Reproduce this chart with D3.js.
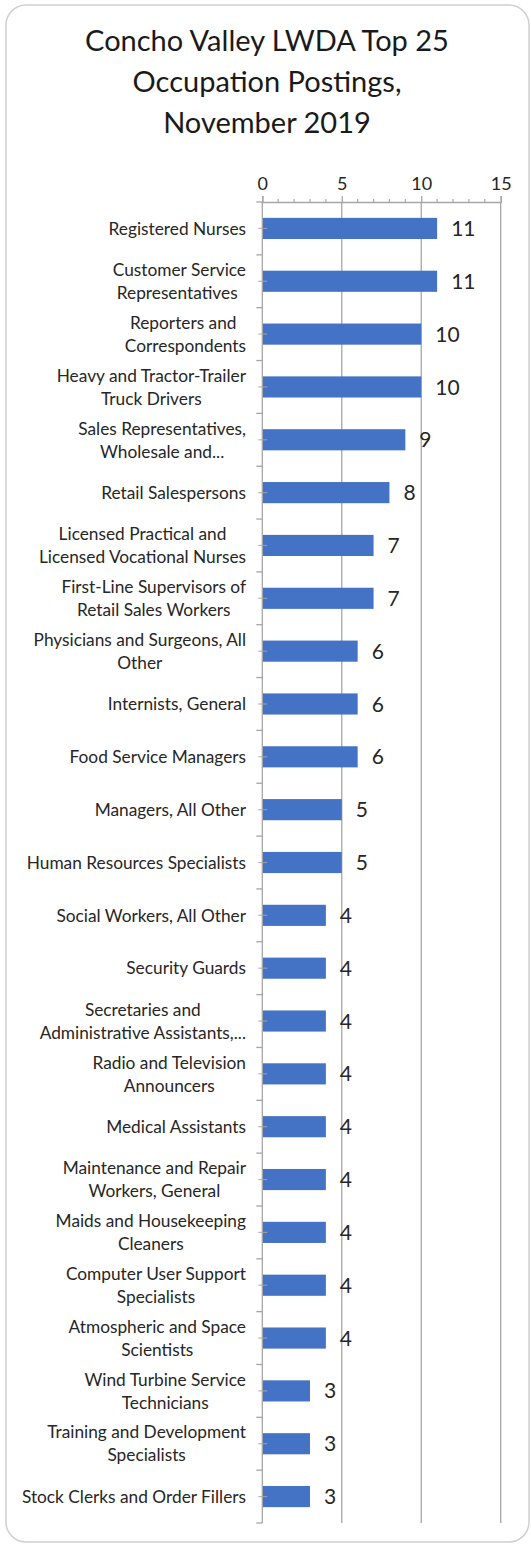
<!DOCTYPE html>
<html>
<head>
<meta charset="utf-8">
<script src="https://cdn.jsdelivr.net/npm/d3@7"></script>
<style>
  html, body { margin: 0; padding: 0; background: #fff; }
  svg { display: block; }
  text { font-family: Lato, "Open Sans", sans-serif; fill: #262626; }
</style>
</head>
<body>
<svg id="chart" width="531" height="1545"></svg>
<script>
const titleLines = ["Concho Valley LWDA Top 25", "Occupation Postings,", "November 2019"];
const categories = [
  "Registered Nurses",
  "Customer Service\nRepresentatives ",
  "Reporters and \nCorrespondents",
  "Heavy and Tractor-Trailer\nTruck Drivers",
  "Sales Representatives,\nWholesale and...",
  "Retail Salespersons",
  "Licensed Practical and\nLicensed Vocational Nurses",
  "First-Line Supervisors of\nRetail Sales Workers",
  "Physicians and Surgeons, All\nOther",
  "Internists, General",
  "Food Service Managers",
  "Managers, All Other",
  "Human Resources Specialists",
  "Social Workers, All Other",
  "Security Guards",
  "Secretaries and\nAdministrative Assistants,...",
  "Radio and Television\nAnnouncers",
  "Medical Assistants",
  "Maintenance and Repair\nWorkers, General",
  "Maids and Housekeeping\nCleaners",
  "Computer User Support\nSpecialists",
  "Atmospheric and Space\nScientists",
  "Wind Turbine Service\nTechnicians",
  "Training and Development\nSpecialists",
  "Stock Clerks and Order Fillers"
];
const values = [11, 11, 10, 10, 9, 8, 7, 7, 6, 6, 6, 5, 5, 4, 4, 4, 4, 4, 4, 4, 4, 4, 3, 3, 3];
const xTicks = [0, 5, 10, 15];

const svg = d3.select("#chart");
const gridColor = "#a6a6a6";

// Border
svg.append("rect")
  .attr("x", 6).attr("y", 5).attr("width", 523).attr("height", 1537)
  .attr("rx", 20).attr("ry", 20)
  .attr("fill", "none").attr("stroke", "#d0d0d0").attr("stroke-width", 1.5);

// Title
svg.append("text")
  .attr("text-anchor", "middle")
  .style("font-size", "29px")
  .style("fill", "#1a1a1a")
  .selectAll("tspan").data(titleLines).join("tspan")
  .attr("x", 267)
  .attr("y", (d, i) => 51 + i * 41)
  .text(d => d);

const pLeft = 262.3, pRight = 500.7, pTop = 202, pBottom = 1523;
const x = d3.scaleLinear().domain([0, 15]).range([pLeft, pRight]);
const y = d3.scaleBand().domain(categories).range([pTop, pBottom]).paddingInner(0.6).paddingOuter(0.3);
const band = (pBottom - pTop) / categories.length;

// gridlines
svg.append("g").selectAll("line").data(xTicks.filter(d => d > 0)).join("line")
  .attr("x1", d => x(d)).attr("x2", d => x(d))
  .attr("y1", pTop).attr("y2", pBottom)
  .attr("stroke", gridColor).attr("stroke-width", 1.3);

// Top axis
const xAxis = svg.append("g").attr("transform", `translate(0,${pTop})`)
  .call(d3.axisTop(x).tickValues(xTicks).tickSize(6).tickPadding(6).tickFormat(d3.format("d")));
xAxis.select(".domain").attr("stroke", gridColor).attr("stroke-width", 1.3);
xAxis.selectAll(".tick line").attr("stroke", gridColor).attr("stroke-width", 1.3);
xAxis.selectAll(".tick text").style("font-size", "18px").style("font-family", "Lato, sans-serif").attr("fill", "#262626");
// minor ticks
svg.append("g").selectAll("line").data(d3.range(0, 16).filter(d => d % 5 !== 0)).join("line")
  .attr("x1", d => x(d)).attr("x2", d => x(d))
  .attr("y1", pTop - 3).attr("y2", pTop)
  .attr("stroke", gridColor).attr("stroke-width", 1.2);

// bars
svg.append("g").selectAll("rect").data(values).join("rect")
  .attr("x", x(0))
  .attr("y", (d, i) => y(categories[i]))
  .attr("width", d => x(d) - x(0))
  .attr("height", y.bandwidth())
  .attr("fill", "#4472C4");

// y axis line
svg.append("line")
  .attr("x1", pLeft).attr("x2", pLeft).attr("y1", pTop).attr("y2", pBottom)
  .attr("stroke", gridColor).attr("stroke-width", 1.3);
// boundary ticks
svg.append("g").selectAll("line").data(d3.range(categories.length + 1)).join("line")
  .attr("x1", pLeft - 6).attr("x2", pLeft)
  .attr("y1", i => pTop + i * band).attr("y2", i => pTop + i * band)
  .attr("stroke", gridColor).attr("stroke-width", 1.3);
// center ticks
svg.append("g").selectAll("line").data(categories).join("line")
  .attr("x1", pLeft - 4).attr("x2", pLeft + 5)
  .attr("y1", d => y(d) + y.bandwidth() / 2).attr("y2", d => y(d) + y.bandwidth() / 2)
  .attr("stroke", gridColor).attr("stroke-width", 1.2).attr("opacity", 0.8);

// category labels: block right-aligned to the axis, lines centred within block
const lh = 23, labelRight = 246;
svg.append("g").selectAll("text").data(categories).join("text")
  .attr("text-anchor", "middle")
  .style("font-size", "17.3px")
  .style("white-space", "pre")
  .each(function(d) {
    const lines = d.split("\n");
    const cy = y(d) + y.bandwidth() / 2;
    const t = d3.select(this);
    const spans = lines.map((ln, k) => t.append("tspan")
        .attr("y", cy + (k - (lines.length - 1) / 2) * lh)
        .attr("dy", "0.36em")
        .text(ln));
    const maxW = d3.max(spans, s => s.node().getComputedTextLength());
    spans.forEach(s => s.attr("x", labelRight - maxW / 2));
  });

// value labels
svg.append("g").selectAll("text").data(values).join("text")
  .attr("x", d => x(d) + 14)
  .attr("y", (d, i) => y(categories[i]) + y.bandwidth() / 2)
  .attr("dy", "0.36em")
  .style("font-size", "21px")
  .text(d => d);
</script>
</body>
</html>
